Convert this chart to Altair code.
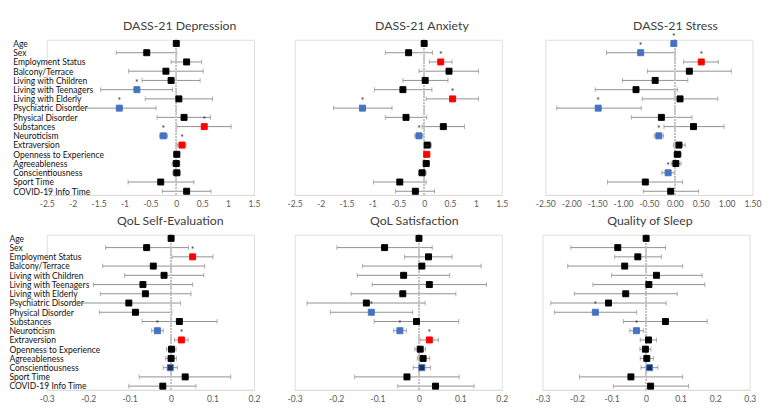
import altair as alt
import pandas as pd

predictors = ["Age", "Sex", "Employment Status", "Balcony/Terrace", "Living with Children",
              "Living with Teenagers", "Living with Elderly", "Psychiatric Disorder",
              "Physical Disorder", "Substances", "Neuroticism", "Extraversion",
              "Openness to Experience", "Agreeableness", "Conscientiousness", "Sport Time",
              "COVID-19 Info Time"]

# DASS-21 Depression
dep_est = [0.00, -0.57, 0.20, -0.20, -0.10, -0.76, 0.05, -1.10, 0.15, 0.54, -0.25, 0.11, 0.01, 0.00, 0.01, -0.30, 0.20]
dep_lo = [-0.01, -1.16, -0.10, -0.92, -0.66, -1.46, -0.60, -1.83, -0.37, 0.01, -0.32, 0.02, -0.05, -0.08, -0.07, -0.93, -0.27]
dep_hi = [0.01, 0.01, 0.49, 0.52, 0.46, -0.07, 0.70, -0.39, 0.66, 1.06, -0.17, 0.19, 0.07, 0.07, 0.08, 0.34, 0.67]
dep_sig = ["ns", "ns", "ns", "ns", "ns", "neg", "ns", "neg", "ns", "pos", "neg", "pos", "ns", "ns", "ns", "ns", "ns"]

# DASS-21 Anxiety
anx_est = [0.00, -0.30, 0.32, 0.48, 0.02, -0.41, 0.55, -1.19, -0.35, 0.37, -0.10, 0.06, 0.05, 0.04, -0.04, -0.47, -0.17]
anx_lo = [-0.01, -0.75, 0.10, -0.10, -0.41, -0.96, 0.04, -1.75, -0.75, -0.04, -0.18, -0.01, -0.01, -0.02, -0.11, -0.98, -0.55]
anx_hi = [0.01, 0.16, 0.54, 1.05, 0.46, 0.15, 1.05, -0.62, 0.05, 0.78, -0.02, 0.14, 0.11, 0.10, 0.04, 0.04, 0.20]
anx_sig = ["ns", "ns", "pos", "ns", "ns", "ns", "pos", "neg", "ns", "ns", "neg", "ns", "pos", "ns", "ns", "ns", "ns"]

# DASS-21 Stress
str_est = [-0.02, -0.66, 0.51, 0.28, -0.38, -0.75, 0.10, -1.48, -0.26, 0.36, -0.31, 0.08, 0.05, 0.02, -0.13, -0.57, -0.08]
str_lo = [-0.03, -1.32, 0.17, -0.53, -1.01, -1.54, -0.63, -2.28, -0.84, -0.21, -0.40, -0.03, -0.02, -0.07, -0.25, -1.30, -0.61]
str_hi = [-0.01, 0.01, 0.84, 1.09, 0.25, 0.05, 0.83, -0.65, 0.33, 0.95, -0.22, 0.20, 0.13, 0.12, -0.01, 0.15, 0.46]
str_sig = ["neg", "neg", "pos", "ns", "ns", "ns", "ns", "neg", "ns", "ns", "neg", "ns", "ns", "ns", "neg", "ns", "ns"]

# QoL Self-Evaluation
qse_est = [0.000, -0.059, 0.052, -0.043, -0.017, -0.068, -0.062, -0.102, -0.086, 0.020, -0.033, 0.025, 0.001, 0.000, -0.002, 0.034, -0.020]
qse_lo = [-0.001, -0.158, 0.002, -0.165, -0.112, -0.187, -0.171, -0.227, -0.173, -0.070, -0.047, 0.008, -0.011, -0.013, -0.019, -0.077, -0.102]
qse_hi = [0.001, 0.042, 0.101, 0.081, 0.079, 0.052, 0.048, 0.023, 0.002, 0.111, -0.019, 0.041, 0.012, 0.013, 0.015, 0.144, 0.060]
qse_sig = ["ns", "ns", "pos", "ns", "ns", "ns", "ns", "ns", "ns", "ns", "neg", "pos", "ns", "ns", "nsb", "ns", "ns"]

# QoL Satisfaction
qsa_est = [0.000, -0.083, 0.023, 0.007, -0.037, 0.025, -0.039, -0.127, -0.115, -0.006, -0.046, 0.025, 0.003, 0.010, 0.007, -0.029, 0.040]
qsa_lo = [-0.001, -0.198, -0.035, -0.136, -0.149, -0.113, -0.164, -0.270, -0.214, -0.108, -0.061, 0.003, -0.010, -0.004, -0.014, -0.155, -0.051]
qsa_hi = [0.001, 0.032, 0.080, 0.150, 0.074, 0.163, 0.089, 0.015, -0.015, 0.096, -0.030, 0.047, 0.016, 0.026, 0.028, 0.097, 0.133]
qsa_sig = ["ns", "ns", "ns", "ns", "ns", "ns", "ns", "ns", "neg", "ns", "neg", "pos", "ns", "ns", "nsb", "ns", "ns"]

# Quality of Sleep
slp_est = [0.000, -0.082, -0.024, -0.062, 0.030, 0.008, -0.059, -0.109, -0.147, 0.056, -0.028, 0.007, -0.002, 0.002, 0.010, -0.044, 0.013]
slp_lo = [-0.001, -0.218, -0.091, -0.227, -0.100, -0.154, -0.208, -0.276, -0.265, -0.066, -0.047, -0.017, -0.018, -0.017, -0.015, -0.193, -0.095]
slp_hi = [0.001, 0.056, 0.044, 0.106, 0.162, 0.170, 0.090, 0.058, -0.027, 0.177, -0.008, 0.030, 0.014, 0.021, 0.034, 0.106, 0.123]
slp_sig = ["ns", "ns", "ns", "ns", "ns", "ns", "ns", "ns", "neg", "ns", "neg", "ns", "ns", "ns", "nsb", "ns", "ns"]

big_ticks = [-2.5, -2.0, -1.5, -1.0, -0.5, 0.0, 0.5, 1.0, 1.5]
small_ticks = [-0.3, -0.2, -0.1, 0.0, 0.1, 0.2]
sleep_ticks = [-0.3, -0.2, -0.1, 0.0, 0.1, 0.2, 0.3]

FONT = "Lato"
GRAY = "#8c8c8c"
W, H = 219, 164

sig_domain = ["ns", "pos", "neg", "nsb"]
fill_range = ["#000000", "#ff0000", "#4472c4", "#1f2d5a"]
stroke_range = ["#000000", "#ff0000", "#4472c4", "#4472c4"]

plain_expr = "datum.value == 0 ? '0' : toString(round(datum.value * 10) / 10)"
two_dec_expr = "replace(format(datum.value, '.2f'), '\u2212', '-')"


def panel(title, est, lo, hi, sig, domain, ticks, label_expr, label_pad, dx):
    df = pd.DataFrame({"predictor": predictors, "est": est, "lo": lo, "hi": hi, "sig": sig})
    df["star"] = ["*" if s in ("pos", "neg") else "" for s in sig]
    if label_pad is not None:
        yaxis = alt.Axis(labelAlign="left", labelPadding=label_pad, ticks=False, domain=False,
                         labelFontSize=9, labelColor="#111111", labelFont=FONT, labelLimit=300,
                         title=None)
    else:
        yaxis = None
    yenc = alt.Y("predictor:N", sort=predictors, scale=alt.Scale(type="point", padding=0.4),
                 axis=yaxis, title=None)
    xscale = alt.Scale(domain=domain, nice=False, zero=False)
    xaxis = alt.Axis(values=ticks, tickCount=len(ticks) + 5, labelExpr=label_expr,
                     domainColor="#d9d9d9", ticks=False,
                     grid=False, labelColor="#595959", labelFontSize=9, labelFont=FONT,
                     labelPadding=5, labelOverlap=False, labelFlush=False, title=None)
    base = alt.Chart(df)
    bars = base.mark_rule(color=GRAY, strokeWidth=1).encode(
        x=alt.X("lo:Q", scale=xscale, axis=xaxis, title=None), x2="hi:Q", y=yenc)
    cap_lo = base.mark_tick(color=GRAY, size=5, thickness=1, orient="vertical").encode(
        x=alt.X("lo:Q", title=None), y=yenc)
    cap_hi = base.mark_tick(color=GRAY, size=5, thickness=1, orient="vertical").encode(
        x=alt.X("hi:Q", title=None), y=yenc)
    zero = base.mark_rule(color="#c4c4c4", strokeDash=[1.5, 1.5], strokeWidth=1).encode(
        x=alt.datum(0))
    pts = base.mark_square(size=40, opacity=1, strokeWidth=1).encode(
        x=alt.X("est:Q", title=None), y=yenc,
        fill=alt.Fill("sig:N", scale=alt.Scale(domain=sig_domain, range=fill_range), legend=None),
        stroke=alt.Stroke("sig:N", scale=alt.Scale(domain=sig_domain, range=stroke_range), legend=None))
    stars = base.mark_text(dy=-7, fontSize=9, color="#303030", font=FONT).encode(
        x=alt.X("est:Q", title=None), y=yenc, text="star:N")
    return alt.layer(bars, cap_lo, cap_hi, zero, pts, stars).properties(
        width=W, height=H,
        title=alt.TitleParams(text=title, fontSize=13, font=FONT, fontWeight="normal",
                              color="#404040", anchor="middle", dx=dx, offset=0))


p1 = panel("DASS-21 Depression", dep_est, dep_lo, dep_hi, dep_sig, [-2.5, 1.5], big_ticks, plain_expr, 36, 31)
p2 = panel("DASS-21 Anxiety", anx_est, anx_lo, anx_hi, anx_sig, [-2.5, 1.5], big_ticks, plain_expr, None, 25)
p3 = panel("DASS-21 Stress", str_est, str_lo, str_hi, str_sig, [-2.5, 1.5], big_ticks, two_dec_expr, None, 28)
p4 = panel("QoL Self-Evaluation", qse_est, qse_lo, qse_hi, qse_sig, [-0.3, 0.2], small_ticks, plain_expr, 40, 21)
p5 = panel("QoL Satisfaction", qsa_est, qsa_lo, qsa_hi, qsa_sig, [-0.3, 0.2], small_ticks, plain_expr, None, 17)
p6 = panel("Quality of Sleep", slp_est, slp_lo, slp_hi, slp_sig, [-0.3, 0.3], sleep_ticks, plain_expr, None, 4)

chart = alt.vconcat(
    alt.hconcat(p1, p2, p3, spacing=27),
    alt.hconcat(p4, p5, p6, spacing=27),
    spacing=6,
).properties(
    padding={"left": 0, "top": 1, "right": 0, "bottom": 0}
).configure_view(stroke=None).configure(background="white")

chart.save("out.html", embed_options={"renderer": "svg", "actions": False})
